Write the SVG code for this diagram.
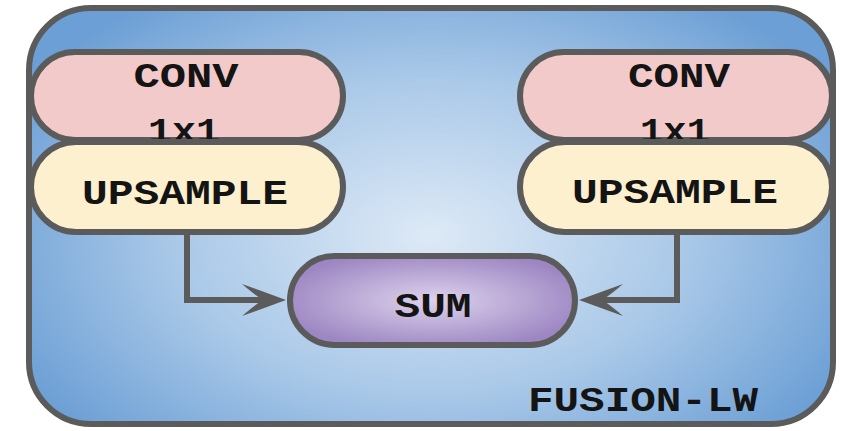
<svg xmlns="http://www.w3.org/2000/svg" width="843" height="431" viewBox="0 0 843 431">
  <defs>
    <radialGradient id="bgGrad" cx="430" cy="235" r="470" gradientUnits="userSpaceOnUse" gradientTransform="translate(430 235) scale(1 0.62) translate(-430 -235)">
      <stop offset="0" stop-color="#dde9f6"/>
      <stop offset="0.55" stop-color="#a9c8e8"/>
      <stop offset="1" stop-color="#6c9fd5"/>
    </radialGradient>
    <radialGradient id="sumGrad" cx="0.5" cy="0.5" r="0.55">
      <stop offset="0" stop-color="#ddd2ec"/>
      <stop offset="1" stop-color="#9d87c3"/>
    </radialGradient>
    <marker id="barb" markerUnits="userSpaceOnUse" viewBox="0 0 46 34" markerWidth="46" markerHeight="34" refX="22" refY="17" orient="auto">
      <path d="M45 17 L1 1 Q15 13 22 17 Q15 21 1 33 Z" fill="#5b5b5b"/>
    </marker>
    <style>
      .frame { fill: url(#bgGrad); stroke: #5b5b5b; stroke-width: 6; }
      .pill { stroke: #5b5b5b; stroke-width: 6; }
      .conv { fill: #f2caca; }
      .ups { fill: #fdf0cf; }
      .sum { fill: url(#sumGrad); }
      .edge { fill: none; stroke: #5b5b5b; stroke-width: 6; marker-end: url(#barb); }
      .lbl { font-family: "Liberation Mono", "DejaVu Sans Mono", monospace; font-weight: bold; font-size: 35px; fill: #141414; text-anchor: middle; }
    </style>
  </defs>

  <!-- outer block -->
  <g id="fusion-lw">
    <rect class="frame" x="29" y="8" width="804" height="416" rx="62" ry="62"/>
    <text class="lbl" x="643" y="411" textLength="230" lengthAdjust="spacingAndGlyphs">FUSION-LW</text>
  </g>

  <!-- connectors -->
  <g id="connectors">
    <polyline class="edge" points="187,233 187,300 263,300"/>
    <polyline class="edge" points="677,233 677,300 602,300"/>
  </g>

  <!-- left branch -->
  <g id="conv-left">
    <rect class="pill conv" x="31" y="52" width="312" height="88" rx="44"/>
    <text class="lbl" x="186" y="87" textLength="105" lengthAdjust="spacingAndGlyphs">CONV</text>
    <text class="lbl" x="184" y="142" textLength="72" lengthAdjust="spacingAndGlyphs">1x1</text>
  </g>
  <g id="upsample-left">
    <rect class="pill ups" x="31" y="142" width="312" height="90" rx="45"/>
    <text class="lbl" x="185" y="204" textLength="206" lengthAdjust="spacingAndGlyphs">UPSAMPLE</text>
  </g>

  <!-- right branch -->
  <g id="conv-right">
    <rect class="pill conv" x="520" y="52" width="312" height="88" rx="44"/>
    <text class="lbl" x="679" y="87" textLength="102" lengthAdjust="spacingAndGlyphs">CONV</text>
    <text class="lbl" x="675" y="142" textLength="70" lengthAdjust="spacingAndGlyphs">1x1</text>
  </g>
  <g id="upsample-right">
    <rect class="pill ups" x="520" y="142" width="312" height="90" rx="45"/>
    <text class="lbl" x="675" y="203" textLength="206" lengthAdjust="spacingAndGlyphs">UPSAMPLE</text>
  </g>

  <!-- merge -->
  <g id="sum">
    <rect class="pill sum" x="290" y="256" width="285" height="89" rx="44.5"/>
    <text class="lbl" x="433" y="317" textLength="77" lengthAdjust="spacingAndGlyphs">SUM</text>
  </g>
</svg>
